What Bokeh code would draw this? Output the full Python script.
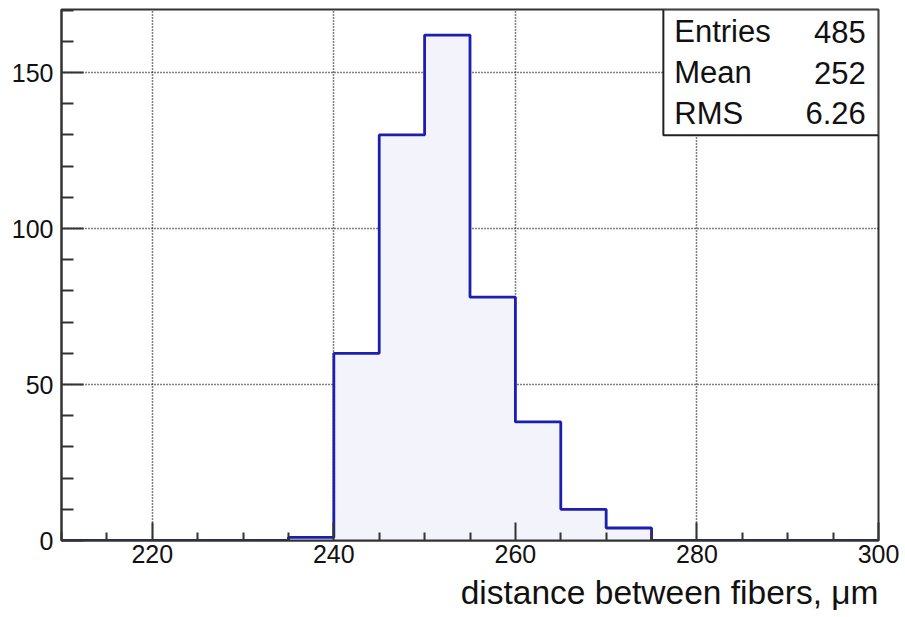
from bokeh.plotting import figure
from bokeh.models import FixedTicker, Range1d, Title, BoxAnnotation, Label
from bokeh.embed import file_html
from bokeh.resources import INLINE

# ---- data ----
bin_edges = [210, 215, 220, 225, 230, 235, 240, 245, 250, 255,
             260, 265, 270, 275, 280, 285, 290, 295, 300]
counts = [0, 0, 0, 0, 0, 1, 60, 130, 162, 78, 38, 10, 4, 0, 0, 0, 0, 0]

x_major = [220, 240, 260, 280, 300]
x_minor = [210, 215, 225, 230, 235, 245, 250, 255, 265, 270, 275, 285, 290, 295]
y_major = [0, 50, 100, 150]
y_minor = [10, 20, 30, 40, 60, 70, 80, 90, 110, 120, 130, 140, 160, 170]

stat_names = ["Entries", "Mean", "RMS"]
stat_values = ["485", "252", "6.26"]
x_title = "distance between fibers, \u03bcm"

FONT = "Liberation Sans"

p = figure(width=905, height=617, output_backend="svg", toolbar_location=None,
           x_range=Range1d(210, 300), y_range=Range1d(0, 170.2),
           min_border_left=61, min_border_right=27, min_border_top=9,
           min_border_bottom=77, background_fill_color="white",
           border_fill_color="white")

# step outline built from bins
xs = [bin_edges[0]]
ys = [0]
for i, c in enumerate(counts):
    xs += [bin_edges[i], bin_edges[i + 1]]
    ys += [c, c]
xs.append(bin_edges[-1])
ys.append(0)

# histogram fill + outline
p.patch(xs, ys, fill_color="#f3f3fc", line_color=None)
p.line(xs, ys, line_color="#1e1eae", line_width=2.8)

# axes / ticks
p.xaxis.ticker = FixedTicker(ticks=x_major, minor_ticks=x_minor)
p.yaxis.ticker = FixedTicker(ticks=y_major, minor_ticks=y_minor)
for ax in (p.xaxis, p.yaxis):
    ax.major_tick_out = 0
    ax.minor_tick_out = 0
    ax.axis_line_color = "#333333"
    ax.axis_line_width = 2
    ax.major_tick_line_color = "#333333"
    ax.major_tick_line_width = 2
    ax.minor_tick_line_color = "#333333"
    ax.minor_tick_line_width = 2
    ax.major_label_text_font = FONT
    ax.major_label_text_font_size = "25px"
    ax.major_label_text_color = "#111111"
p.xaxis.major_tick_in = 18
p.xaxis.minor_tick_in = 8
p.yaxis.major_tick_in = 22
p.yaxis.minor_tick_in = 12
p.xaxis.major_label_standoff = 4
p.yaxis.major_label_standoff = 8

p.xgrid.ticker = FixedTicker(ticks=x_major)
p.ygrid.ticker = FixedTicker(ticks=y_major)
for g in (p.xgrid, p.ygrid):
    g.grid_line_color = "#000000"
    g.grid_line_dash = "1 2"
    g.grid_line_width = 1.5
    g.grid_line_alpha = 1.0

p.outline_line_color = "#333333"
p.outline_line_width = 2

# stats box
box = BoxAnnotation(left=276.3, right=300, bottom=129.9, top=170.2,
                    fill_color="white", fill_alpha=1.0,
                    line_color="#222222", line_width=2, line_alpha=1.0)
p.add_layout(box)
name_y = [163.1, 150.0, 136.9]
for nm, val, yy in zip(stat_names, stat_values, name_y):
    p.add_layout(Label(x=277.5, y=yy, text=nm, text_font=FONT,
                       text_font_size="31px", text_color="#111111",
                       text_align="left", text_baseline="alphabetic"))
    p.add_layout(Label(x=298.6, y=yy, text=val, text_font=FONT,
                       text_font_size="31px", text_color="#111111",
                       text_align="right", text_baseline="alphabetic"))

t = Title(text=x_title, align="right", text_font=FONT, text_font_size="33.5px",
          text_font_style="normal", text_color="#111111", standoff=13)
p.add_layout(t, "below")

open("out.html", "w").write(file_html(p, INLINE))
